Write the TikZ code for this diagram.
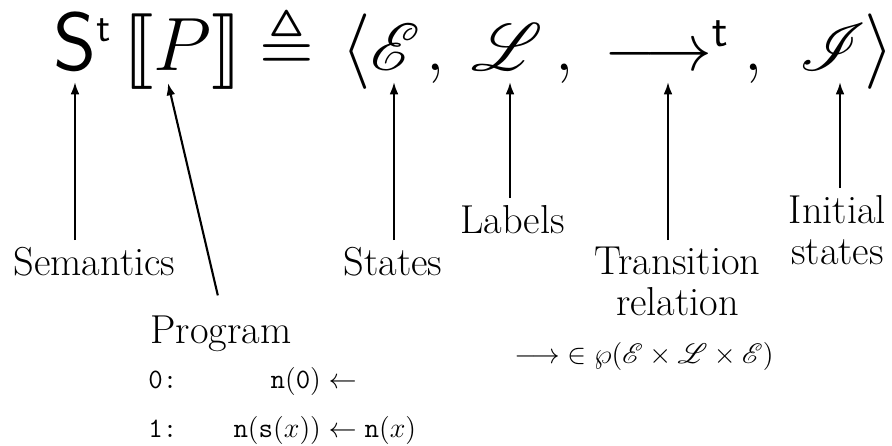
\documentclass[tikz,border=0pt]{standalone}
\usepackage{fix-cm}
\usepackage{amssymb,mathrsfs,stmaryrd}
% make the symbol fonts scale to any size
\DeclareFontFamily{U}{stmry}{}
\DeclareFontShape{U}{stmry}{m}{n}{<-> stmary10}{}
\DeclareFontFamily{U}{rsfs}{\skewchar\font127 }
\DeclareFontShape{U}{rsfs}{m}{n}{<-6> rsfs5 <6-8> rsfs7 <8-> rsfs10}{}
\DeclareFontFamily{U}{msa}{}
\DeclareFontShape{U}{msa}{m}{n}{<-6> msam5 <6-8> msam7 <8-> msam10}{}
\DeclareMathAlphabet{\mathsf}{OT1}{cmss}{m}{n}
\usetikzlibrary{positioning,arrows.meta}

\begin{document}
\begin{tikzpicture}[
  x=0.02cm, y=-0.02cm,
  semsym/.style = {inner sep=0pt, anchor=base west, font=\fontsize{38}{44}\selectfont},
  semsymbig/.style = {semsym, font=\fontsize{43}{50}\selectfont},
  semlbl/.style = {inner sep=4pt, anchor=north, align=center, font=\fontsize{23}{23.3}\selectfont},
  semcode/.style = {inner sep=0pt, anchor=base west, font=\fontsize{16}{28}\selectfont},
  sempointer/.style = {line width=1.2pt, -{Latex[length=7pt,width=5pt]}}
]
  \useasboundingbox (0,0) rectangle (892,446);
  % the semantics tuple
  \node[semsym, font=\fontsize{47}{52}\selectfont] (symS) at (53,71)
    {$\mathsf{S}^{\scriptscriptstyle\mathsf{t}}$};
  \node[semsymbig] (symP)  at (123,71) {$\llbracket P\rrbracket$};
  \node[semsymbig, font=\fontsize{40}{46}\selectfont] (symEq) at (259,71) {$\triangleq$};
  \node[semsymbig] (symLa) at (341,71) {$\langle$};
  \node[semsym] (symE)  at (370,71) {$\mathscr{E}$};
  \node[semsym] (comE)  at (426,71) {$,$};
  \node[semsym] (symL)  at (471,71) {$\mathscr{L}$};
  \node[semsym] (comL)  at (555,71) {$,$};
  \node[semsym] (symTo) at (604,71) {$\longrightarrow^{\mathsf{t}}$};
  \node[semsym] (comTo) at (744,71) {$,$};
  \node[semsym] (symI)  at (799,71) {$\mathscr{I}$};
  \node[semsymbig] (symRa) at (864,71) {$\rangle$};
  % arrow tips below the symbols
  \coordinate (tipS) at (75,82);
  \coordinate (tipP) at (168,83);
  \coordinate (tipE) at (394,82);
  \coordinate (tipL) at (510,82);
  \coordinate (tipTo) at (668,82);
  \coordinate (tipI) at (840,82);
  % labels
  \node[semlbl] (lblSem)    at (94.5,240) {Semantics};
  \node[semlbl, anchor=base west] (lblProg) at (143,343) {Program};
  \node[semlbl] (lblStates) at (393,240) {States};
  \node[semlbl] (lblLab)    at (512.5,198) {Labels};
  \node[semlbl] (lblTrans)  at (677.5,240) {Transition\\relation};
  \node[semlbl] (lblInit)   at (837.5,188) {Initial\\states};
  % program text
  \node[semcode] (code) at (148,388) {\begin{tabular}[t]{@{}l@{\hspace{32pt}}r@{}l@{}}
      \texttt{0:} & $\mathtt{n}(\mathtt{0})\leftarrow$ & \\
      \texttt{1:} & $\mathtt{n}(\mathtt{s}(x))\leftarrow$ & $\;\mathtt{n}(x)$
    \end{tabular}};
  \node[semcode] (relType) at (514,363)
    {${\longrightarrow}\in\wp(\mathscr{E}\times\mathscr{L}\times\mathscr{E})$};
  % pointers
  \draw[sempointer] (lblSem.north -| tipS) -- (tipS);
  \draw[sempointer, shorten <=0.26cm] (lblProg.north) -- (tipP);
  \draw[sempointer] (lblStates.north -| tipE) -- (tipE);
  \draw[sempointer] (lblLab.north -| tipL) -- (tipL);
  \draw[sempointer] (lblTrans.north -| tipTo) -- (tipTo);
  \draw[sempointer] (lblInit.north -| tipI) -- (tipI);
\end{tikzpicture}
\end{document}
